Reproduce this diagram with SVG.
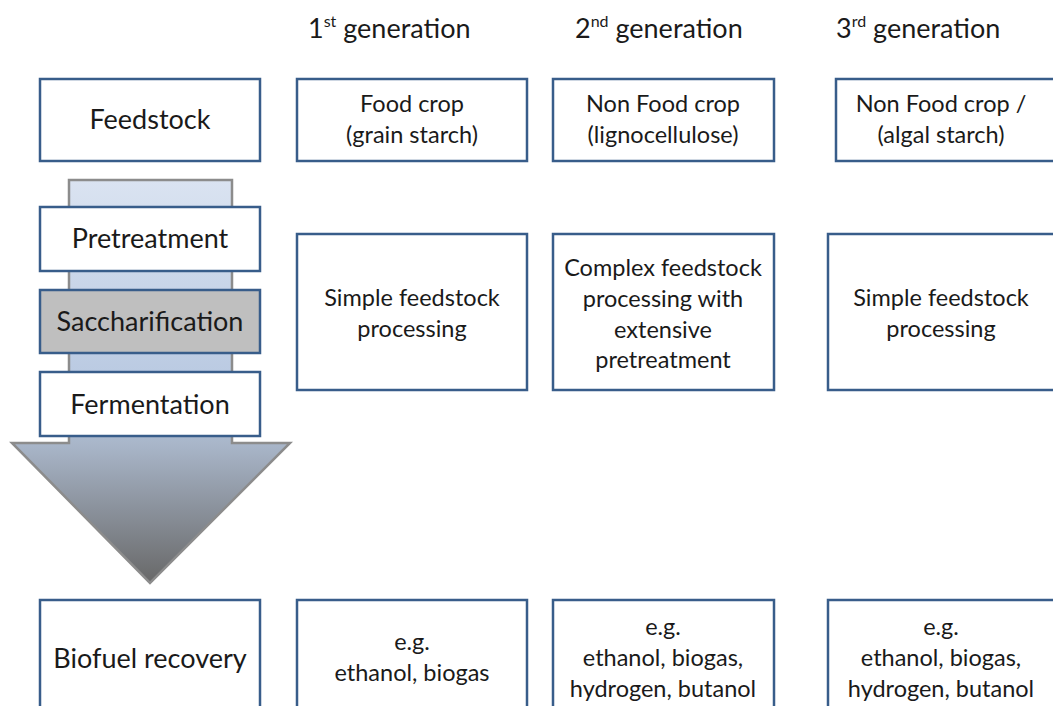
<svg xmlns="http://www.w3.org/2000/svg" width="1053" height="706" viewBox="0 0 1053 706">
<defs>
<linearGradient id="arrowGrad" x1="0" y1="180" x2="0" y2="583" gradientUnits="userSpaceOnUse">
<stop offset="0" stop-color="#dae3f1"/>
<stop offset="0.55" stop-color="#b6c7e0"/>
<stop offset="0.66" stop-color="#a8b5c8"/>
<stop offset="1" stop-color="#686868"/>
</linearGradient>
<style>
.box{fill:#ffffff;stroke:#385d8a;stroke-width:2.5}
.grey{fill:#bfbfbf;stroke:#385d8a;stroke-width:2.5}
.t{font-family:Lato,"Liberation Sans",sans-serif;font-size:23.5px;fill:#1a1a1a;text-anchor:middle}
.l{font-family:Lato,"Liberation Sans",sans-serif;font-size:27px;fill:#1a1a1a;text-anchor:middle}
.h{font-family:Lato,"Liberation Sans",sans-serif;font-size:27px;fill:#1a1a1a}
.sup{font-size:16px}
</style>
</defs>
<rect width="1053" height="706" fill="#ffffff"/>

<g id="headers">
<text class="h" x="308" y="38">1<tspan class="sup" dy="-11">st</tspan><tspan dy="11"> generation</tspan></text>
<text class="h" x="575" y="38">2<tspan class="sup" dy="-11">nd</tspan><tspan dy="11"> generation</tspan></text>
<text class="h" x="836" y="38">3<tspan class="sup" dy="-11">rd</tspan><tspan dy="11"> generation</tspan></text>
</g>

<g id="connectors">
<path id="process-arrow" d="M69,180 L232,180 L232,443 L290,443 L150,583 L12,443 L69,443 Z" fill="url(#arrowGrad)" stroke="#8c8c8c" stroke-width="2.5" stroke-linejoin="miter"/>
</g>

<g id="feedstock">
<rect class="box" x="40" y="79" width="220" height="82"/>
<text class="l" x="150" y="129">Feedstock</text>
</g>
<g id="pretreatment">
<rect class="box" x="40" y="207" width="220" height="64"/>
<text class="l" x="150" y="248">Pretreatment</text>
</g>
<g id="saccharification">
<rect class="grey" x="40" y="290" width="220" height="63"/>
<text class="l" x="150" y="331">Saccharification</text>
</g>
<g id="fermentation">
<rect class="box" x="40" y="372" width="220" height="64"/>
<text class="l" x="150" y="414">Fermentation</text>
</g>
<g id="biofuel-recovery">
<rect class="box" x="40" y="600" width="220" height="130"/>
<text class="l" x="150" y="668">Biofuel recovery</text>
</g>

<g id="gen1-feedstock">
<rect class="box" x="297" y="79" width="230" height="82"/>
<text class="t" x="412" y="112">Food crop</text>
<text class="t" x="412" y="143">(grain starch)</text>
</g>
<g id="gen2-feedstock">
<rect class="box" x="553" y="79" width="221" height="82"/>
<text class="t" x="663" y="112">Non Food crop</text>
<text class="t" x="663" y="143">(lignocellulose)</text>
</g>
<g id="gen3-feedstock">
<rect class="box" x="836" y="79" width="230" height="82"/>
<text class="t" x="941" y="112">Non Food crop /</text>
<text class="t" x="941" y="143">(algal starch)</text>
</g>

<g id="gen1-processing">
<rect class="box" x="297" y="234" width="230" height="156"/>
<text class="t" x="412" y="306">Simple feedstock</text>
<text class="t" x="412" y="337">processing</text>
</g>
<g id="gen2-processing">
<rect class="box" x="553" y="234" width="221" height="156"/>
<text class="t" x="663" y="276">Complex feedstock</text>
<text class="t" x="663" y="307">processing with</text>
<text class="t" x="663" y="338">extensive</text>
<text class="t" x="663" y="368">pretreatment</text>
</g>
<g id="gen3-processing">
<rect class="box" x="828" y="234" width="240" height="156"/>
<text class="t" x="941" y="306">Simple feedstock</text>
<text class="t" x="941" y="337">processing</text>
</g>

<g id="gen1-products">
<rect class="box" x="297" y="600" width="230" height="130"/>
<text class="t" x="412" y="650">e.g.</text>
<text class="t" x="412" y="681">ethanol, biogas</text>
</g>
<g id="gen2-products">
<rect class="box" x="553" y="600" width="221" height="130"/>
<text class="t" x="663" y="635">e.g.</text>
<text class="t" x="663" y="666">ethanol, biogas,</text>
<text class="t" x="663" y="697">hydrogen, butanol</text>
</g>
<g id="gen3-products">
<rect class="box" x="828" y="600" width="240" height="130"/>
<text class="t" x="941" y="635">e.g.</text>
<text class="t" x="941" y="666">ethanol, biogas,</text>
<text class="t" x="941" y="697">hydrogen, butanol</text>
</g>
</svg>
